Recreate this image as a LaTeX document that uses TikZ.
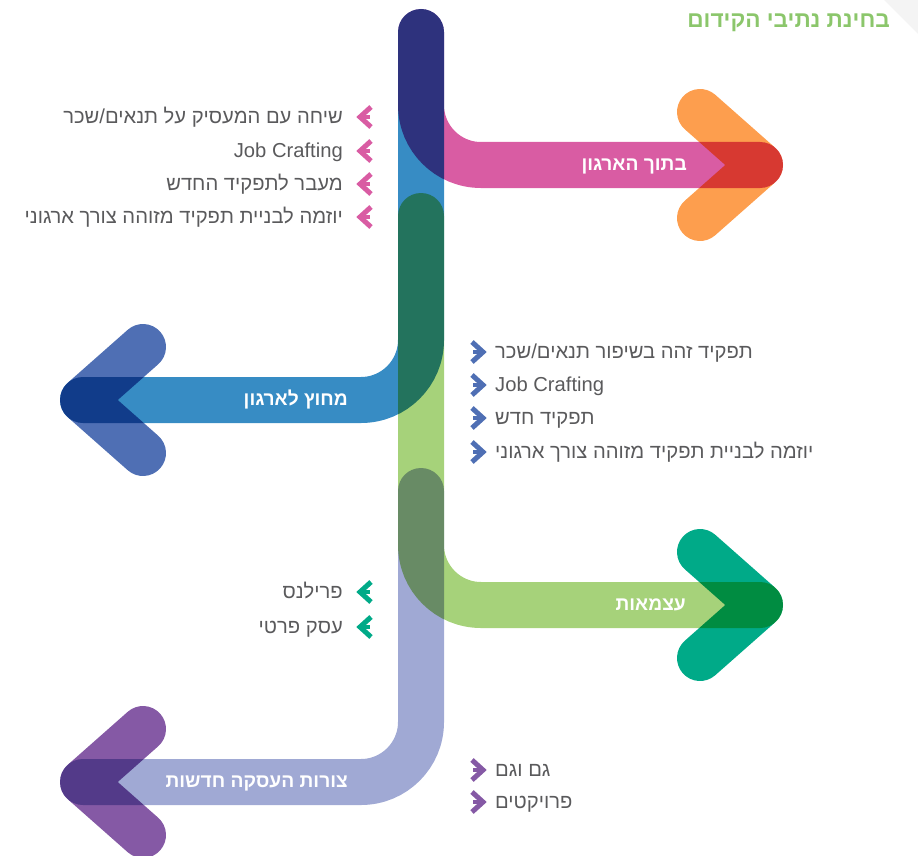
\documentclass[tikz,border=0pt]{standalone}
\usepackage{fontspec}
\setmainfont{Liberation Sans}
\newfontfamily\heb[Script=Hebrew]{Liberation Sans}
\TeXXeTstate=1
\definecolor{cpink}{HTML}{D95CA3}
\definecolor{cblue}{HTML}{378CC4}
\definecolor{clgreen}{HTML}{A6D27A}
\definecolor{clav}{HTML}{A0A9D4}
\definecolor{corange}{HTML}{FD9E4E}
\definecolor{cchblue}{HTML}{4F6FB4}
\definecolor{cteal}{HTML}{00AA88}
\definecolor{cpurple}{HTML}{8559A5}
\definecolor{ctitle}{HTML}{8BC66B}
\definecolor{ctext}{HTML}{5A5A5C}
\definecolor{ccorner}{HTML}{F4F4F4}
\newcommand{\RL}[1]{\heb\beginR #1\endR}
\begin{document}
\begin{tikzpicture}[x=1pt,y=-1pt,
  band/.style={line width=46pt, line cap=round, rounded corners=60pt},
  chev/.style={line width=46pt, line cap=round, line join=round},
  bandlabel/.style={text=white, font=\heb\bfseries\fontsize{19.2}{21}\selectfont, inner sep=0pt, text height=14pt, text depth=3pt},
  item/.style={text=ctext, font=\heb\fontsize{20.2}{23}\selectfont, inner sep=0pt, text height=15pt, text depth=4pt},
  sarr/.style={line width=5pt, line cap=butt, line join=miter},
  sshaft/.style={line width=4pt, line cap=butt}]
\useasboundingbox (0,0) rectangle (918,856);
\fill[ccorner] (884,0) -- (918,0) -- (918,34) -- cycle;
% title
\node[anchor=east, text=ctitle, font=\heb\bfseries\fontsize{22.6}{25}\selectfont, inner sep=0pt, text height=16pt, text depth=4pt] (title) at (890,22) {\RL{בחינת נתיבי הקידום}};
% coordinates
\coordinate (p0) at (421,32);  \coordinate (p1) at (421,165); \coordinate (p2) at (760,165);
\coordinate (b0) at (421,32);  \coordinate (b1) at (421,400); \coordinate (b2) at (83,400);
\coordinate (g0) at (421,216); \coordinate (g1) at (421,605); \coordinate (g2) at (760,605);
\coordinate (l0) at (421,491); \coordinate (l1) at (421,782); \coordinate (l2) at (83,782);
\begin{scope}[blend mode=multiply]
  \draw[band, cpink] (p0) -- (p1) -- (p2);
  \draw[band, cblue] (b0) -- (b1) -- (b2);
  \draw[band, clgreen] (g0) -- (g1) -- (g2);
  \draw[band, clav] (l0) -- (l1) -- (l2);
  \draw[chev, corange] ([shift={(-60,-53)}]p2) -- (p2) -- ([shift={(-60,53)}]p2);
  \draw[chev, cchblue] ([shift={(60,-53)}]b2) -- (b2) -- ([shift={(60,53)}]b2);
  \draw[chev, cteal] ([shift={(-60,-53)}]g2) -- (g2) -- ([shift={(-60,53)}]g2);
  \draw[chev, cpurple] ([shift={(60,-53)}]l2) -- (l2) -- ([shift={(60,53)}]l2);
\end{scope}
% band labels
\node[bandlabel, anchor=east] (lp) at (687,165) {\RL{בתוך הארגון}};
\node[bandlabel, anchor=east] (lb) at (348,400) {\RL{מחוץ לארגון}};
\node[bandlabel, anchor=east] (lg) at (686,605) {\RL{עצמאות}};
\node[bandlabel, anchor=east] (ll) at (348,782) {\RL{צורות העסקה חדשות}};
% left top list (pink)
\foreach \y/\t [count=\i] in {117/{\RL{שיחה עם המעסיק על תנאים/שכר}}, 151/{Job Crafting}, 184/{\RL{מעבר לתפקיד החדש}}, 217/{\RL{יוזמה לבניית תפקיד מזוהה צורך ארגוני}}}{
  \draw[sarr, cpink] (371,\y-10) -- (360,\y) -- (371,\y+10);
  \draw[sshaft, cpink] (360,\y) -- (370,\y);
  \node[item, anchor=east] (pi\i) at (343,\y+1) {\t};
}
% right list (blue)
\foreach \y/\t [count=\i] in {352/{\RL{תפקיד זהה בשיפור תנאים/שכר}}, 385/{Job Crafting}, 418/{\RL{תפקיד חדש}}, 452/{\RL{יוזמה לבניית תפקיד מזוהה צורך ארגוני}}}{
  \draw[sarr, cchblue] (472,\y-10) -- (483,\y) -- (472,\y+10);
  \draw[sshaft, cchblue] (473,\y) -- (483,\y);
  \node[item, anchor=west] (bi\i) at (495,\y+1) {\t};
}
% left middle list (teal)
\foreach \y/\t [count=\i] in {592/{\RL{פרילנס}}, 627/{\RL{עסק פרטי}}}{
  \draw[sarr, cteal] (371,\y-10) -- (360,\y) -- (371,\y+10);
  \draw[sshaft, cteal] (360,\y) -- (370,\y);
  \node[item, anchor=east] (gi\i) at (343,\y+1) {\t};
}
% right bottom list (purple)
\foreach \y/\t [count=\i] in {770/{\RL{גם וגם}}, 802/{\RL{פרויקטים}}}{
  \draw[sarr, cpurple] (472,\y-10) -- (483,\y) -- (472,\y+10);
  \draw[sshaft, cpurple] (473,\y) -- (483,\y);
  \node[item, anchor=west] (li\i) at (495,\y+1) {\t};
}
\end{tikzpicture}
\end{document}
